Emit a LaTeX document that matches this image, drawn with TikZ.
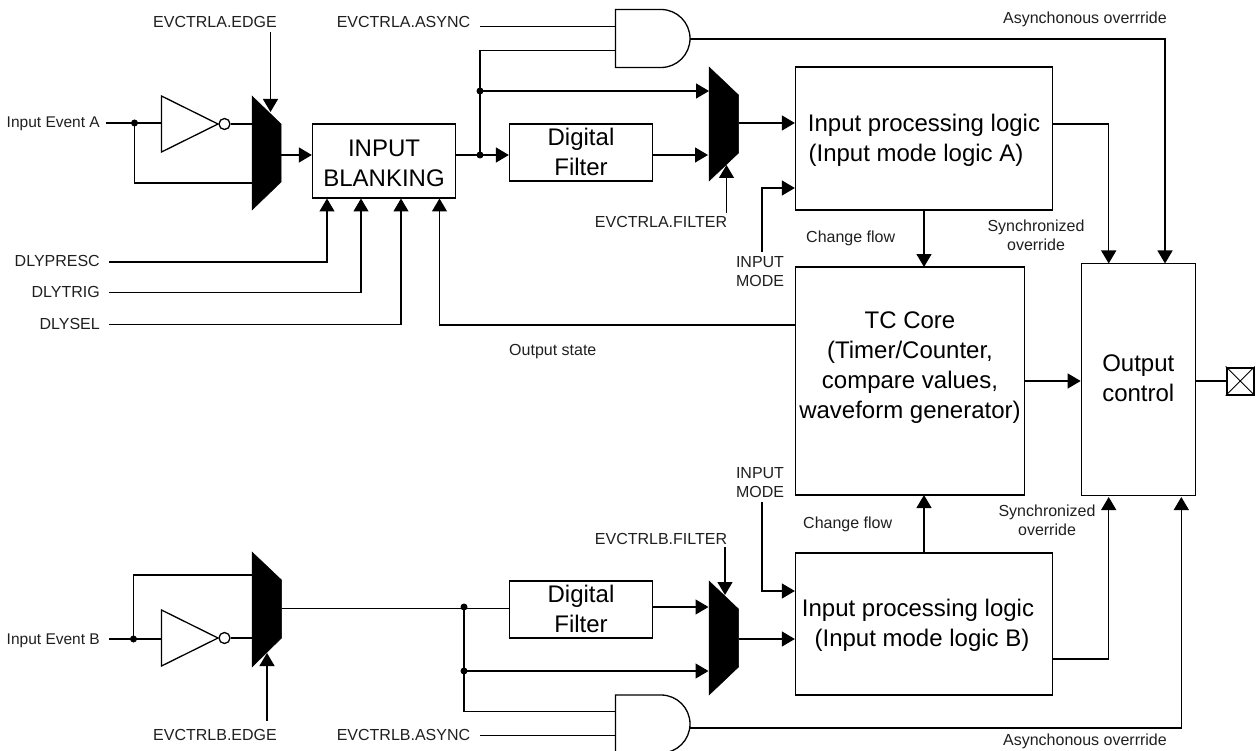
\documentclass[tikz,border=0pt]{standalone}
\usepackage{fontspec}
\setmainfont{Liberation Sans}
\usetikzlibrary{arrows.meta}
\tikzset{
  wire/.style={line width=1.3pt,line join=miter},
  arrowwire/.style={wire,-{Triangle[length=13pt,width=15pt]}},
  block/.style={draw,line width=1.3pt,inner sep=0pt,align=center,font=\fontsize{24}{29.7}\selectfont},
  lbl/.style={inner sep=0pt,text=black!88,font=\fontsize{16}{19}\selectfont,align=center},
  inlbl/.style={lbl,font=\fontsize{15.5}{19}\selectfont},
  gate/.style={draw,line width=1.3pt,line join=miter,fill=white},
  muxshape/.style={fill=black,draw=black,line width=.5pt},
  junction/.style={circle,fill=black,inner sep=0pt,minimum size=7pt},
  bubble/.style={circle,draw,line width=1.3pt,fill=white,inner sep=0pt,minimum size=11pt}
}
\begin{document}
\begin{tikzpicture}[x=1pt,y=-1pt]
\useasboundingbox (0,0) rectangle (1257,751);

% ---------- blocks
\node[block,minimum width=143pt,minimum height=74pt] (blank) at (384,161) {\rule{0pt}{21.2pt}INPUT\\BLANKING};
\node[block,minimum width=143pt,minimum height=57pt] (filtA) at (581,152.5) {Digital\\Filter\rule[-2pt]{0pt}{0pt}};
\node[block,minimum width=143pt,minimum height=57pt] (filtB) at (581,609.5) {Digital\\Filter\rule[-2pt]{0pt}{0pt}};
\node[block,minimum width=257pt,minimum height=143pt] (procA) at (924,138.5) {\rule{0pt}{20.5pt}Input processing logic\\(Input mode logic A)\hspace*{16pt}};
\node[block,minimum width=257pt,minimum height=142pt] (procB) at (924,624) {\rule{0pt}{19.5pt}Input processing logic\hspace*{12pt}\\(Input mode logic B)\hspace*{4pt}};
\node[block,minimum width=229pt,minimum height=228pt] (core) at (910,381) {TC Core\\(Timer/Counter,\\compare values,\\waveform generator)\\\rule[-2pt]{0pt}{0pt}};
\node[block,minimum width=114pt,minimum height=231.5pt] (out) at (1138.3,379.5) {Output\\control\rule[-3pt]{0pt}{0pt}};
\node[draw,line width=2pt,minimum size=27pt,inner sep=0pt] (pad) at (1240.2,381) {};
\draw[line width=1pt] (pad.north west) -- (pad.south east) (pad.north east) -- (pad.south west);

% ---------- labels
\node[inlbl,anchor=base east] (inA) at (100,128) {Input Event A};
\node[inlbl,anchor=base east] (inB) at (100,644) {Input Event B};
\node[lbl,anchor=base east] (presc) at (100,266) {DLYPRESC};
\node[lbl,anchor=base east] (trig) at (100,297.5) {DLYTRIG};
\node[lbl,anchor=base east] (sel) at (100,329) {DLYSEL};
\node[lbl,anchor=base] (edgeA) at (215,28) {EVCTRLA.EDGE};
\node[lbl,anchor=base] (asyncA) at (403.5,28) {EVCTRLA.ASYNC};
\node[lbl,anchor=base] (filtAl) at (661,227.7) {EVCTRLA.FILTER};
\node[lbl,anchor=base] (edgeB) at (215,740.7) {EVCTRLB.EDGE};
\node[lbl,anchor=base] (asyncB) at (403.5,740.7) {EVCTRLB.ASYNC};
\node[lbl,anchor=base] (filtBl) at (661,544) {EVCTRLB.FILTER};
\node[lbl] (modeA) at (760,272) {INPUT\\MODE};
\node[lbl] (modeB) at (760,483) {INPUT\\MODE};
\node[lbl,anchor=base west] (chA) at (806,243) {Change flow};
\node[lbl,anchor=base west] (chB) at (803,528) {Change flow};
\node[lbl,anchor=base west] (ostate) at (509,355) {Output state};
\node[lbl] (syA) at (1036,235.5) {Synchronized\\override};
\node[lbl] (syB) at (1047,520.5) {Synchronized\\override};
\node[lbl,anchor=base east] (asA) at (1167,23.3) {Asynchonous overrride};
\node[lbl,anchor=base east] (asB) at (1167,745.7) {Asynchonous overrride};

% ---------- inverters
\draw[gate] (161.5,96) -- (161.5,152) -- (218,124) -- cycle;
\node[bubble] (bubA) at (224.5,124) {};
\draw[gate] (161.5,610) -- (161.5,666) -- (218,638) -- cycle;
\node[bubble] (bubB) at (224.5,638) {};

% ---------- multiplexers
\path[muxshape] (252,96) -- (281,124) -- (281,182) -- (252,210) -- cycle;
\path[muxshape] (252,552) -- (281.5,580) -- (281.5,638) -- (252,667) -- cycle;
\path[muxshape] (709,67) -- (738.5,95) -- (738.5,153) -- (709,181) -- cycle;
\path[muxshape] (709,581) -- (738.5,609) -- (738.5,667) -- (709,695) -- cycle;

% ---------- AND gates
\draw[gate] (615.5,9.5) -- (661,9.5) arc[start angle=-90,end angle=90,radius=29] -- (615.5,67.5) -- cycle;
\draw[gate] (615.5,695) -- (661,695) arc[start angle=-90,end angle=90,radius=29] -- (615.5,753) -- cycle;

% ---------- named points
\node[junction] (jA) at (134.5,123) {};
\node[junction] (jB) at (133.5,639) {};
\node[junction] (j1) at (480,155) {};
\node[junction] (j2) at (480,91) {};
\node[junction] (j3) at (464,607) {};
\node[junction] (j4) at (464,671) {};
\coordinate (muxAin1) at (252,123);
\coordinate (muxAin2) at (252,183);
\coordinate (muxAout) at (281,155);
\coordinate (muxBin1) at (252,575);
\coordinate (muxBin2) at (252,639);
\coordinate (muxBout) at (281.5,608.5);
\coordinate (muxCin1) at (709,91);
\coordinate (muxCin2) at (708,155);
\coordinate (muxCout) at (738.5,123);
\coordinate (muxDin1) at (708.5,607);
\coordinate (muxDin2) at (708.5,671);
\coordinate (muxDout) at (738.5,639);
\coordinate (andAo) at (690,39);
\coordinate (andBo) at (690,728);

% ---------- channel A
\draw[wire] (106,123) -- (jA.center) -- (161.5,123);
\draw[wire] (bubA.east) -- (252,124);
\draw[wire] (jA.center) |- (muxAin2);
\draw[arrowwire] (270.5,32) -- (270.5,112);
\draw[arrowwire] (muxAout) -- (blank.west |- muxAout);
\draw[arrowwire] (109,262) -| (327,198.5);
\draw[arrowwire] (109,292.5) -| (361,198.5);
\draw[arrowwire] (109,324.5) -| (401,198.5);
\draw[arrowwire] (core.west |- 0,325) -| (439.5,198.5);
\draw[wire] (blank.east |- j1) -- (j1.center);
\draw[arrowwire] (j1.center) -- (filtA.west |- j1);
\draw[wire] (j1.center) -- (480,50.5) -- (615.5,50.5);
\draw[wire] (480,26.5) -- (615.5,26.5);
\draw[arrowwire] (j2.center) -- (muxCin1);
\draw[arrowwire] (filtA.east |- muxCin2) -- (muxCin2);
\draw[arrowwire] (726.5,213) -- (726.5,165);
\draw[arrowwire] (muxCout) -- (procA.west |- muxCout);
\draw[arrowwire] (762,252) |- (procA.west |- 0,188);
\draw[arrowwire] (924,210) -- (924,267);
\draw[arrowwire] (procA.east |- 0,124) -| (1108.7,263.5);
\draw[arrowwire] (andAo) -| (1165,263.5);

% ---------- channel B
\draw[wire] (109,639) -- (jB.center) -- (161.5,639);
\draw[wire] (bubB.east) -- (252,638);
\draw[wire] (jB.center) |- (muxBin1);
\draw[arrowwire] (267,721) -- (267,653);
\draw[wire] (muxBout) -- (filtB.west |- muxBout);
\draw[wire] (j3.center) -- (464,711.7) -- (615.5,711.7);
\draw[wire] (480,735.7) -- (615.5,735.7);
\draw[arrowwire] (j4.center) -- (muxDin2);
\draw[arrowwire] (filtB.east |- muxDin1) -- (muxDin1);
\draw[arrowwire] (725,547) -- (725,595);
\draw[arrowwire] (muxDout) -- (procB.west |- muxDout);
\draw[arrowwire] (762,502) |- (procB.west |- 0,591);
\draw[arrowwire] (924,553) -- (924,495);
\draw[arrowwire] (procB.east |- 0,659) -| (1108.7,497);
\draw[arrowwire] (andBo) -| (1181.3,497);

% ---------- output
\draw[arrowwire] (core.east) -- (out.west |- core.east);
\draw[wire] (out.east |- pad) -- (pad.west);
\end{tikzpicture}
\end{document}
